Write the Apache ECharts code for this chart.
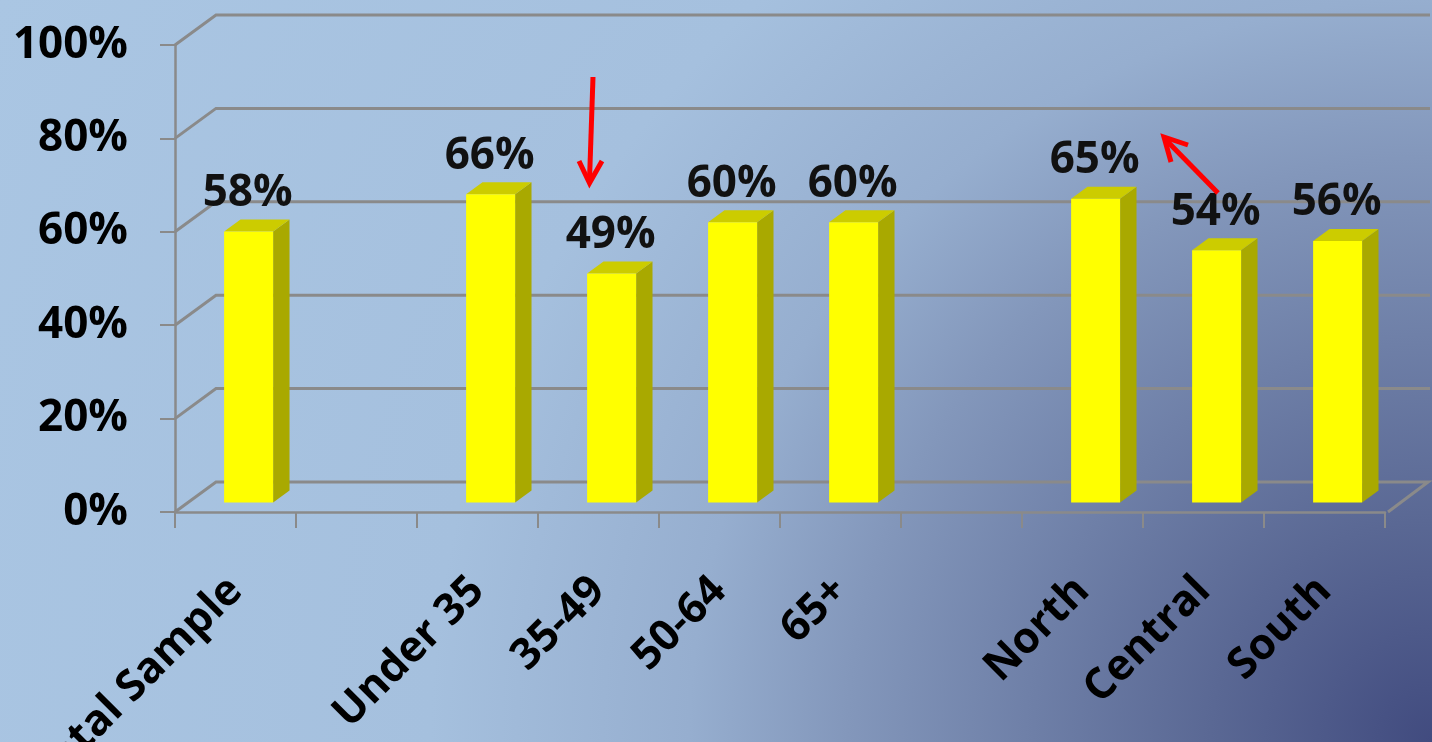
<!DOCTYPE html>
<html>
<head>
<meta charset="utf-8">
<style>
  html, body { margin: 0; padding: 0; background: #a9c5e2; }
  #chart { width: 1432px; height: 742px; }
</style>
<script src="https://cdn.jsdelivr.net/npm/echarts@6/dist/echarts.min.js"></script>
</head>
<body>
<div id="chart"></div>
<script>
// ---- data ----
const categories = ['Total Sample', '', 'Under 35', '35-49', '50-64', '65+', '', 'North', 'Central', 'South'];
const values = [0.58, null, 0.66, 0.49, 0.60, 0.60, null, 0.65, 0.54, 0.56];
const yTicks = [0, 0.2, 0.4, 0.6, 0.8, 1.0];

const GRID_COLOR = '#8a8a8a';
const DEPTH_X = 41, DEPTH_Y = -30;     // back wall offset
const BAR_OFF = 0.32;                   // bar front at 32% depth
const BAR_DEPTH = 0.40;                 // bar depth fraction

const barData = [];
categories.forEach((c, i) => { if (values[i] != null) barData.push([i, values[i]]); });

const chart = echarts.init(document.getElementById('chart'));

const option = {
  animation: false,
  graphic: [
    {
      type: 'rect', z: -100, silent: true,
      shape: { x: 0, y: 0, width: 1432, height: 742 },
      style: {
        fill: {
          type: 'radial', x: 1432, y: 742, r: 1615, global: true,
          colorStops: [
            { offset: 0, color: '#414b7f' },
            { offset: 0.137, color: '#5a6894' },
            { offset: 0.362, color: '#8397bb' },
            { offset: 0.46, color: '#96aecf' },
            { offset: 0.62, color: '#a5c0de' },
            { offset: 1, color: '#aac6e3' }
          ]
        }
      }
    },
    // annotation arrows
    {
      type: 'polyline', z: 100, silent: true,
      shape: { points: [[593, 77], [589.5, 180]] },
      style: { stroke: '#ff0000', lineWidth: 5, fill: null }
    },
    {
      type: 'polyline', z: 100, silent: true,
      shape: { points: [[579, 161], [589.5, 183], [602, 161]] },
      style: { stroke: '#ff0000', lineWidth: 5, fill: null, lineJoin: 'miter' }
    },
    {
      type: 'polyline', z: 100, silent: true,
      shape: { points: [[1218, 193], [1166, 140]] },
      style: { stroke: '#ff0000', lineWidth: 5, fill: null }
    },
    {
      type: 'polyline', z: 100, silent: true,
      shape: { points: [[1171, 162], [1164, 137], [1188, 145]] },
      style: { stroke: '#ff0000', lineWidth: 5, fill: null, lineJoin: 'miter' }
    }
  ],
  grid: { left: 175, right: 47, top: 45, bottom: 230, containLabel: false, outerBoundsMode: 'none' },
  xAxis: {
    type: 'category',
    data: categories,
    boundaryGap: true,
    axisLine: { show: true, lineStyle: { color: GRID_COLOR, width: 2.5 } },
    axisTick: { show: true, length: 16, lineStyle: { color: GRID_COLOR, width: 2 } },
    axisLabel: {
      interval: 0, rotate: 45, margin: 72,
      fontFamily: 'Open Sans', fontWeight: 'bold', fontSize: 43, color: '#000'
    },
    splitLine: { show: false }
  },
  yAxis: {
    type: 'value', min: 0, max: 1, interval: 0.2,
    axisLine: { show: true, lineStyle: { color: GRID_COLOR, width: 2.5 } },
    axisTick: { show: true, length: 15, lineStyle: { color: GRID_COLOR, width: 2 } },
    axisLabel: {
      margin: 47,
      formatter: v => Math.round(v * 100) + '%',
      fontFamily: 'Open Sans', fontWeight: 'bold', fontSize: 44, color: '#000'
    },
    splitLine: { show: false }
  },
  series: [
    {
      // 3D walls / gridlines
      type: 'custom',
      coordinateSystem: 'cartesian2d',
      silent: true,
      z: 1,
      data: yTicks.map(v => [0, v]),
      encode: { x: 0, y: 1 },
      renderItem: function (params, api) {
        const cs = params.coordSys;
        const L = cs.x, R = cs.x + cs.width;
        const v = api.value(1);
        const y = api.coord([0, v])[1];
        const children = [];
        const st = { stroke: GRID_COLOR, lineWidth: 3, fill: null };
        if (v === 0) {
          children.push({ type: 'polyline', shape: { points: [[L, y], [L + DEPTH_X, y + DEPTH_Y], [R + DEPTH_X + 2, y + DEPTH_Y], [R + 3, y]] }, style: st });
        } else {
          children.push({ type: 'polyline', shape: { points: [[L, y], [L + DEPTH_X, y + DEPTH_Y], [R + DEPTH_X + 4, y + DEPTH_Y]] }, style: st });
        }
        return { type: 'group', children: children };
      }
    },
    {
      // 3D bars
      type: 'custom',
      coordinateSystem: 'cartesian2d',
      z: 5,
      data: barData,
      encode: { x: 0, y: 1 },
      renderItem: function (params, api) {
        const idx = api.value(0), val = api.value(1);
        const p0 = api.coord([idx, 0]);
        const p1 = api.coord([idx, val]);
        const slot = api.size([1, 0])[0];
        const bw = slot * 0.405;
        const ox = DEPTH_X * BAR_OFF, oy = DEPTH_Y * BAR_OFF;
        const dx = DEPTH_X * BAR_DEPTH, dy = DEPTH_Y * BAR_DEPTH;
        const cx = p0[0] + ox;
        const xl = cx - bw / 2, xr = cx + bw / 2;
        const yb = p0[1] + oy, yt = p1[1] + oy;
        return {
          type: 'group',
          children: [
            { type: 'polygon', shape: { points: [[xr, yb], [xr, yt], [xr + dx, yt + dy], [xr + dx, yb + dy]] }, style: { fill: '#a9a900' } },
            { type: 'polygon', shape: { points: [[xl, yt], [xr, yt], [xr + dx, yt + dy], [xl + dx, yt + dy]] }, style: { fill: '#cccc00' } },
            { type: 'rect', shape: { x: xl, y: yt, width: bw, height: yb - yt }, style: { fill: '#ffff00' } },
            {
              type: 'text',
              style: {
                text: Math.round(val * 100) + '%',
                x: cx - 1, y: yt - 38,
                align: 'center', verticalAlign: 'middle',
                font: 'bold 44px "Open Sans"', fill: '#111'
              }
            }
          ]
        };
      }
    }
  ]
};
chart.setOption(option);
</script>
</body>
</html>
